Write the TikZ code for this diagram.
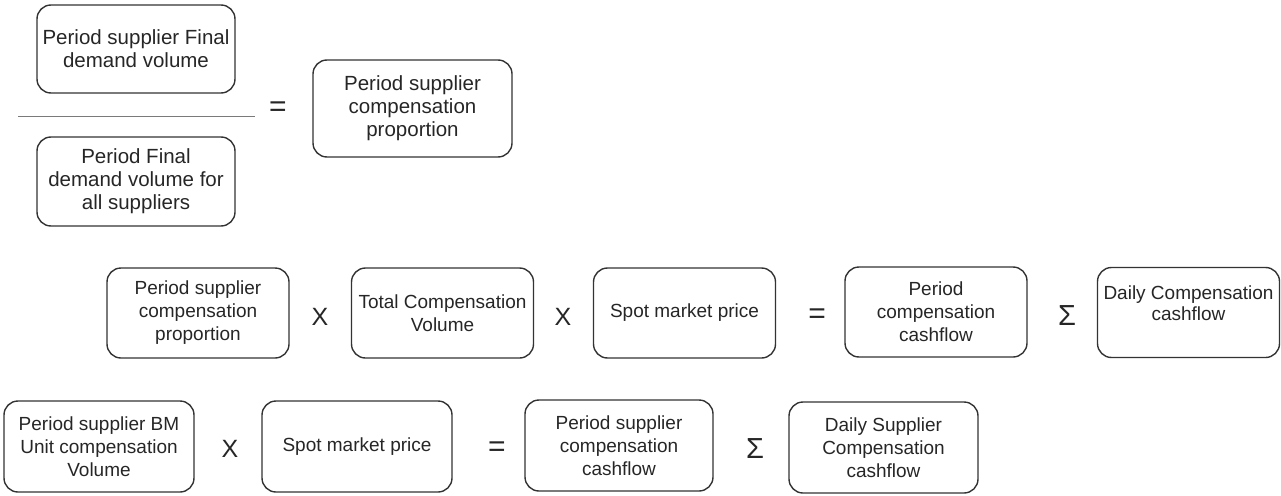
\documentclass[tikz,border=0pt]{standalone}
\usepackage{fontspec}
\setmainfont{Liberation Sans}
\definecolor{boxline}{HTML}{333333}
\definecolor{ink}{HTML}{262626}
\definecolor{fracline}{HTML}{7A7A7A}

\begin{document}
\begin{tikzpicture}[x=1pt,y=-1pt,
	box/.style={rectangle,draw=boxline,line width=1.4pt,rounded corners=14pt,align=center,text=ink,inner sep=0pt,font=\fontsize{19}{23}\selectfont},
	topbox/.style={box,minimum width=198pt,font=\fontsize{20.5}{23}\selectfont},
	midbox/.style={box,minimum width=182pt,minimum height=90pt},
	lowbox/.style={box,minimum width=190pt,minimum height=91pt},
	op/.style={text=ink,inner sep=0pt,font=\fontsize{25}{25}\selectfont}]
	\useasboundingbox (0,0) rectangle (1281,495);

	\node at (136,49) [topbox,minimum height=88pt] (num) {Period supplier Final\\demand volume};
	\node at (136,181.5) [topbox,minimum height=89pt] (den) {Period Final\\demand volume for\\all suppliers};
	\coordinate (fl) at (18,116);
	\coordinate (fr) at (255,116);
	\draw[fracline,line width=1pt] (fl) -- (fr);
	\node at (278,109) [op,font=\fontsize{30}{30}\selectfont] (eq1) {=};
	\node at (412.5,108.5) [topbox,minimum width=199pt,minimum height=97pt] (prop) {Period supplier\\compensation\\proportion};

	\node at (198,313) [midbox] (share) {Period supplier\\compensation\\proportion};
	\node at (320,317) [op] (x1) {X};
	\node at (442.5,313) [midbox] (totvol) {Total Compensation\\Volume};
	\node at (563,317) [op] (x2) {X};
	\node at (684.5,313) [midbox] (spotA) {Spot market price};
	\node at (817,316) [op,font=\fontsize{30}{30}\selectfont] (eq2) {=};
	\node at (936,312) [midbox] (pcash) {Period\\compensation\\cashflow};
	\node at (1067,316) [op,font=\fontsize{29}{29}\selectfont] (sum1) {Σ};
	\node at (1188.5,312.5) [midbox,text depth=19pt,font=\fontsize{19}{21}\selectfont] (dcash) {Daily Compensation\\cashflow};

	\node at (99,446.5) [lowbox] (bmvol) {Period supplier BM\\Unit compensation\\Volume};
	\node at (230,449) [op] (x3) {X};
	\node at (357,446.5) [lowbox] (spotB) {Spot market price};
	\node at (497,449) [op,font=\fontsize{30}{30}\selectfont] (eq3) {=};
	\node at (619,445.5) [lowbox,minimum width=188pt] (scash) {Period supplier\\compensation\\cashflow};
	\node at (755,449) [op,font=\fontsize{29}{29}\selectfont] (sum2) {Σ};
	\node at (883.5,447.5) [lowbox,minimum width=189pt] (dscash) {Daily Supplier\\Compensation\\cashflow};
\end{tikzpicture}
\end{document}
